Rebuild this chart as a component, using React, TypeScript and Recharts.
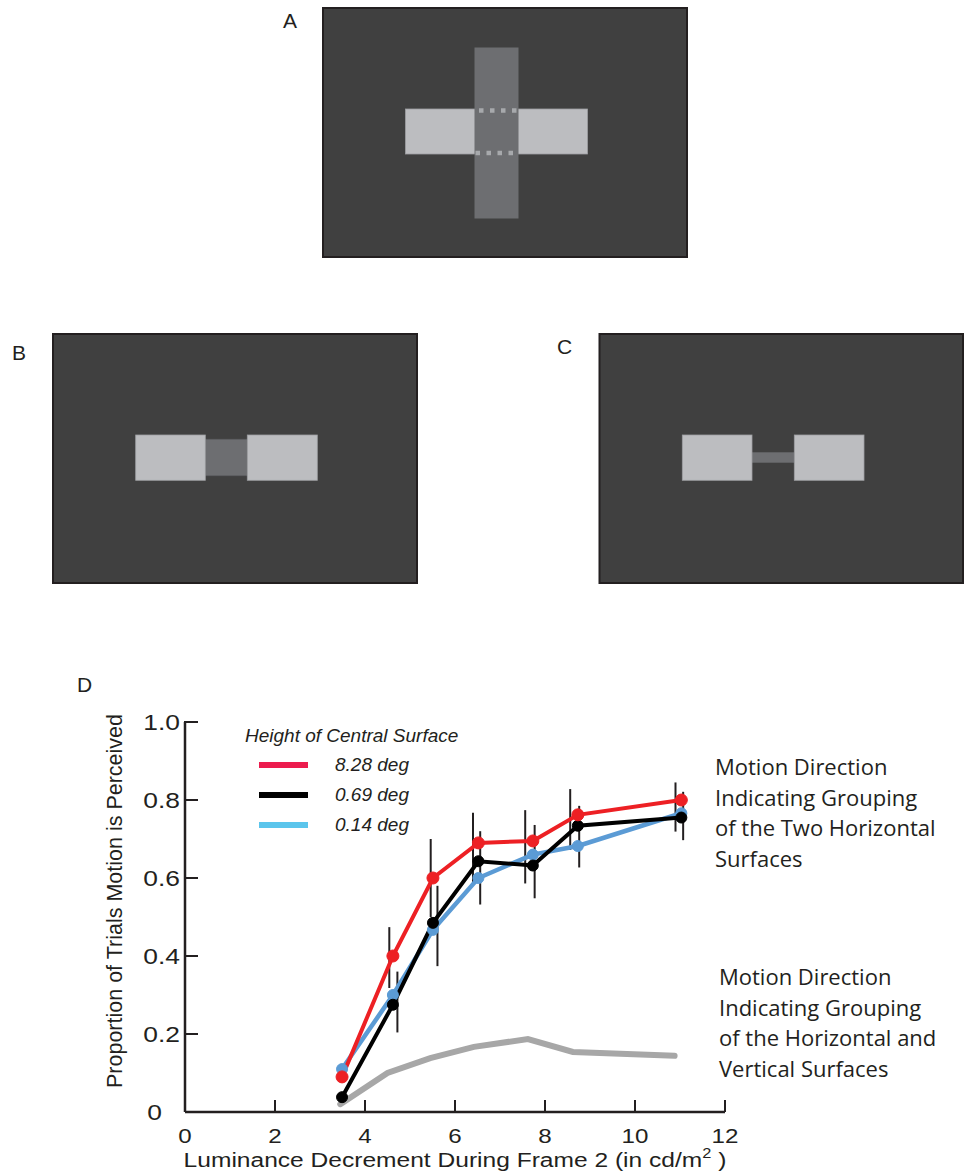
import React from "react";
import { ComposedChart, Line, ErrorBar, XAxis, YAxis, Legend, Label } from "recharts";

// ── data ──────────────────────────────────────────────────────────────────────

const X_LEVELS = [3.49, 4.62, 5.51, 6.52, 7.73, 8.73, 11.03];
const RED_8_28 = [0.09, 0.4, 0.6, 0.69, 0.695, 0.762, 0.8];
const BLACK_0_69 = [0.038, 0.275, 0.485, 0.643, 0.632, 0.734, 0.755];
const BLUE_0_14 = [0.11, 0.3, 0.467, 0.6, 0.66, 0.682, 0.766];

const GREY_X = [3.45, 4.5, 5.45, 6.42, 7.62, 8.62, 10.88];
const GREY_VERTICAL = [0.02, 0.1, 0.138, 0.167, 0.187, 0.154, 0.144];

// error bars sit a little to the side of the points in the figure
const RED_ERR_X = [4.54, 5.46, 6.4, 7.56, 8.56, 10.9];
const RED_ERR_MID = [0.396, 0.6, 0.677, 0.68, 0.75, 0.782];
const RED_ERR = [0.078, 0.1, 0.09, 0.094, 0.078, 0.063];
const BLACK_ERR_X = [4.72, 5.61, 6.56, 7.77, 8.76, 11.07];
const BLACK_ERR_MID = [0.282, 0.477, 0.626, 0.642, 0.706, 0.759];
const BLACK_ERR = [0.078, 0.103, 0.094, 0.094, 0.079, 0.062];

const X_TICKS = [0, 2, 4, 6, 8, 10, 12];
const Y_TICKS = [0, 0.2, 0.4, 0.6, 0.8, 1.0];

const LEGEND_TITLE = "Height of Central Surface";
const LEGEND_ITEMS = [
  { label: "8.28 deg", color: "#ec1c4e" },
  { label: "0.69 deg", color: "#000000" },
  { label: "0.14 deg", color: "#5bc5ec" },
];

const NOTE_HORIZONTAL = ["Motion Direction", "Indicating Grouping", "of the Two Horizontal", "Surfaces"];
const NOTE_VERTICAL = ["Motion Direction", "Indicating Grouping", "of the Horizontal and", "Vertical Surfaces"];

const INK = "#231f20";
const RED = "#ed2024";
const BLUE = "#5b9bd5";
const GREY = "#a7a7a7";

const SCREEN = "#404040";
const LIGHT = "#bcbdc0";
const MID = "#6d6e71";
const DOTS = "#a7a9ac";

const zip = (xs: number[], ys: number[]) => xs.map((x, i) => ({ x, y: ys[i] }));
const zipErr = (xs: number[], ys: number[], es: number[]) =>
  xs.map((x, i) => ({ x, y: ys[i], err: es[i] }));

// ── ticks drawn inward like the original ──────────────────────────────────────

const YTick = ({ x, y, payload }: any) => {
  const v = payload.value as number;
  const text = v === 0 ? "0" : v.toFixed(1);
  return (
    <g>
      {v !== 0 && <line x1={x - 1} x2={x + 13} y1={y} y2={y} stroke={INK} strokeWidth={2} />}
      <text
        transform={`translate(${v === 0 ? x - 23 : x - 5},${y + 8}) scale(1.2,1)`}
        textAnchor="end"
        fontSize={22}
        fill={INK}
      >
        {text}
      </text>
    </g>
  );
};

const XTick = ({ x, y, payload }: any) => (
  <g>
    {payload.value !== 0 && <line x1={x} x2={x} y1={y} y2={y - 12} stroke={INK} strokeWidth={2} />}
    <text transform={`translate(${x},${y + 31}) scale(1.15,1)`} textAnchor="middle" fontSize={21} fill={INK}>
      {payload.value}
    </text>
  </g>
);

const renderLegend = () => (
  <div style={{ fontFamily: "'Liberation Sans', Arial, sans-serif", fontStyle: "italic", fontSize: 19, color: INK }}>
    <div style={{ height: 28, lineHeight: "28px", whiteSpace: "nowrap" }}>{LEGEND_TITLE}</div>
    {LEGEND_ITEMS.map((item) => (
      <div key={item.label} style={{ display: "flex", alignItems: "center", height: 30 }}>
        <span style={{ display: "inline-block", width: 49, height: 6, background: item.color, marginLeft: 14, marginRight: 27 }} />
        <span style={{ whiteSpace: "nowrap" }}>{item.label}</span>
      </div>
    ))}
  </div>
);

// ── panels A–C: the stimulus screens ──────────────────────────────────────────

function Panels() {
  const label = { fontSize: 21, fill: INK, fontFamily: "'Liberation Sans', Arial, sans-serif" };
  return (
    <svg width={966} height={700} style={{ position: "absolute", left: 0, top: 0 }}>
      <text x={283} y={27.5} {...label}>A</text>
      <rect x={323} y={8} width={364} height={249} fill={SCREEN} stroke={INK} strokeWidth={2} />
      <rect x={405.5} y={109} width={70} height={45} fill={LIGHT} stroke="#9d9fa2" strokeWidth={0.8} />
      <rect x={517.5} y={109} width={70} height={45} fill={LIGHT} stroke="#9d9fa2" strokeWidth={0.8} />
      <rect x={474.5} y={47.5} width={44} height={171} fill={MID} />
      <line x1={479} x2={517} y1={110.5} y2={110.5} stroke={DOTS} strokeWidth={4.5} strokeDasharray="4.5 6.5" />
      <line x1={475.5} x2={514} y1={153} y2={153} stroke={DOTS} strokeWidth={4.5} strokeDasharray="4.5 6.5" />

      <text x={12} y={359.5} {...label}>B</text>
      <rect x={53} y={334} width={364} height={249} fill={SCREEN} stroke={INK} strokeWidth={2} />
      <rect x={205.3} y={439.3} width={42} height={36.4} fill={MID} stroke="#5f6063" strokeWidth={0.8} />
      <rect x={135.7} y={435} width={69.6} height={45.3} fill={LIGHT} stroke="#9d9fa2" strokeWidth={0.8} />
      <rect x={247.3} y={435} width={70} height={45.3} fill={LIGHT} stroke="#9d9fa2" strokeWidth={0.8} />

      <text x={557} y={353.5} {...label}>C</text>
      <rect x={599.5} y={334} width={363.5} height={249} fill={SCREEN} stroke={INK} strokeWidth={2} />
      <rect x={752} y={452.3} width={42.3} height={10.4} fill={MID} />
      <rect x={682.3} y={435} width={69.7} height={45.3} fill={LIGHT} stroke="#9d9fa2" strokeWidth={0.8} />
      <rect x={794.3} y={435} width={69.7} height={45.3} fill={LIGHT} stroke="#9d9fa2" strokeWidth={0.8} />

      <text x={77} y={691.5} {...label}>D</text>
    </svg>
  );
}

function Note({ lines, left, top }: { lines: string[]; left: number; top: number }) {
  return (
    <div
      style={{
        position: "absolute",
        left,
        top,
        fontFamily: "'Open Sans', sans-serif",
        fontSize: 22,
        lineHeight: "30.5px",
        color: INK,
        whiteSpace: "nowrap",
      }}
    >
      {lines.map((l) => (
        <div key={l}>{l}</div>
      ))}
    </div>
  );
}

export default function App() {
  return (
    <div
      style={{
        position: "absolute",
        left: 0,
        top: 0,
        width: 966,
        height: 1172,
        background: "#fff",
        fontFamily: "'Liberation Sans', Arial, sans-serif",
        overflow: "hidden",
      }}
    >
      <Panels />
      <Note lines={NOTE_HORIZONTAL} left={715} top={751} />
      <Note lines={NOTE_VERTICAL} left={719} top={961} />

      <div style={{ position: "absolute", left: 0, top: 680 }}>
        <ComposedChart width={966} height={492} margin={{ top: 42, right: 241, bottom: 20, left: 125 }}>
          <XAxis
            type="number"
            dataKey="x"
            domain={[0, 12]}
            ticks={X_TICKS}
            height={40}
            tickSize={0}
            tickMargin={0}
            tickLine={false}
            axisLine={{ stroke: INK, strokeWidth: 2.5 }}
            tick={XTick}
            interval={0}
          >
            <Label
              content={() => (
                <text transform="translate(455,487) scale(1.17,1)" textAnchor="middle" fontSize={21} fill={INK}>
                  <tspan>Luminance Decrement During Frame 2 (in cd/m</tspan>
                  <tspan dy={-9} fontSize={14}>2</tspan>
                  <tspan dy={9}> )</tspan>
                </text>
              )}
            />
          </XAxis>
          <YAxis
            type="number"
            dataKey="y"
            domain={[0, 1]}
            ticks={Y_TICKS}
            width={60}
            tickSize={0}
            tickMargin={0}
            tickLine={false}
            axisLine={{ stroke: INK, strokeWidth: 2.5 }}
            tick={YTick}
            interval={0}
          >
            <Label
              content={() => (
                <text
                  transform="translate(115,221) rotate(-90)"
                  textAnchor="middle"
                  dominantBaseline="central"
                  fontSize={21.5}
                  fill={INK}
                >
                  Proportion of Trials Motion is Perceived
                </text>
              )}
            />
          </YAxis>
          <Legend
            content={renderLegend}
            layout="vertical"
            align="center"
            verticalAlign="middle"
            wrapperStyle={{ left: 245, top: 42, width: 260 }}
          />

          <Line
            data={zip(GREY_X, GREY_VERTICAL)}
            dataKey="y"
            stroke={GREY}
            strokeWidth={6}
            strokeLinecap="round"
            dot={false}
            activeDot={false}
            legendType="none"
            isAnimationActive={false}
          />
          <Line
            data={zipErr(RED_ERR_X, RED_ERR_MID, RED_ERR)}
            dataKey="y"
            stroke="none"
            dot={false}
            activeDot={false}
            legendType="none"
            isAnimationActive={false}
          >
            <ErrorBar dataKey="err" direction="y" width={0} stroke={INK} strokeWidth={2} isAnimationActive={false} />
          </Line>
          <Line
            data={zipErr(BLACK_ERR_X, BLACK_ERR_MID, BLACK_ERR)}
            dataKey="y"
            stroke="none"
            dot={false}
            activeDot={false}
            legendType="none"
            isAnimationActive={false}
          >
            <ErrorBar dataKey="err" direction="y" width={0} stroke={INK} strokeWidth={2} isAnimationActive={false} />
          </Line>
          <Line
            data={zip(X_LEVELS, BLUE_0_14)}
            dataKey="y"
            stroke={BLUE}
            strokeWidth={4.5}
            dot={{ r: 5.5, fill: BLUE, stroke: BLUE, strokeWidth: 1 }}
            activeDot={false}
            isAnimationActive={false}
          />
          <Line
            data={zip(X_LEVELS, BLACK_0_69)}
            dataKey="y"
            stroke="#000"
            strokeWidth={4}
            dot={{ r: 5.5, fill: "#000", stroke: "#000", strokeWidth: 1 }}
            activeDot={false}
            isAnimationActive={false}
          />
          <Line
            data={zip(X_LEVELS, RED_8_28)}
            dataKey="y"
            stroke={RED}
            strokeWidth={4}
            dot={{ r: 6, fill: RED, stroke: RED, strokeWidth: 1 }}
            activeDot={false}
            isAnimationActive={false}
          />
        </ComposedChart>
      </div>
    </div>
  );
}
